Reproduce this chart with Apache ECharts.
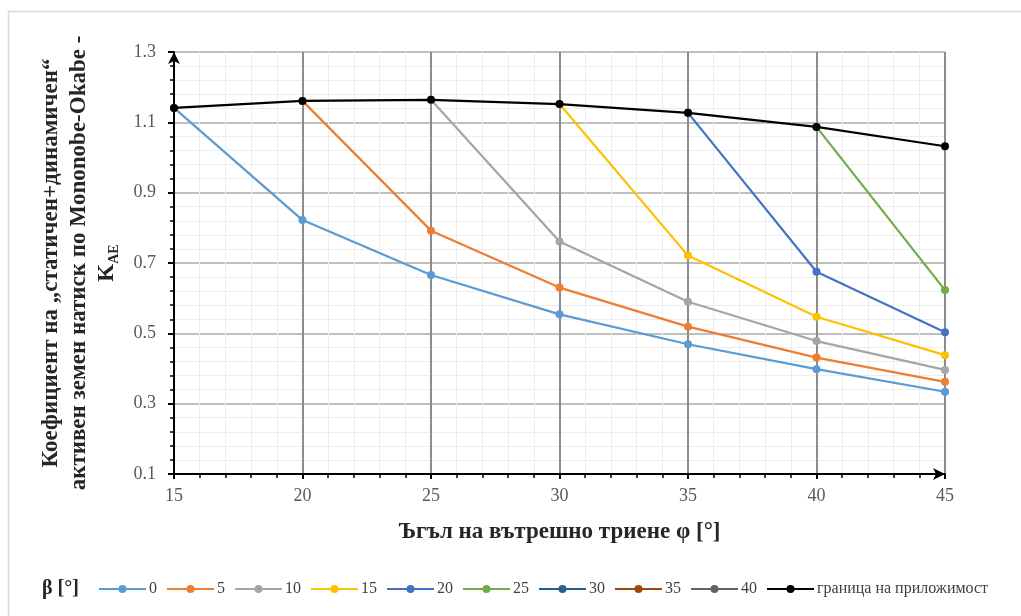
<!DOCTYPE html>
<html>
<head>
<meta charset="utf-8">
<script src="https://cdn.jsdelivr.net/npm/echarts@6/dist/echarts.min.js"></script>
<style>
html,body{margin:0;padding:0;background:#fff;}
#chart{width:1021px;height:616px;}
</style>
</head>
<body>
<div id="chart"></div>
<script>
const phi = [15, 20, 25, 30, 35, 40, 45];
const yTicks = [0.1, 0.3, 0.5, 0.7, 0.9, 1.1, 1.3];
const beta0  = [1.141, 0.822, 0.666, 0.554, 0.469, 0.398, 0.334];
const beta5  = [null, 1.161, 0.792, 0.630, 0.519, 0.431, 0.362];
const beta10 = [null, null, 1.164, 0.761, 0.590, 0.478, 0.396];
const beta15 = [null, null, null, 1.152, 0.721, 0.547, 0.438];
const beta20 = [null, null, null, null, 1.127, 0.675, 0.503];
const beta25 = [null, null, null, null, null, 1.087, 0.623];
const beta30 = [];
const beta35 = [];
const beta40 = [];
const boundary = [1.141, 1.161, 1.164, 1.152, 1.127, 1.087, 1.032];

const seriesNames = ['0', '5', '10', '15', '20', '25', '30', '35', '40', 'граница на приложимост'];
const seriesData = [beta0, beta5, beta10, beta15, beta20, beta25, beta30, beta35, beta40, boundary];
const colors = ['#5B9BD5', '#ED7D31', '#A5A5A5', '#FFC000', '#4472C4', '#70AD47', '#255E91', '#9E480E', '#636363', '#000000'];

const serif = "'Liberation Serif', 'DejaVu Serif', serif";

function pairs(arr) {
  const out = [];
  arr.forEach((v, i) => { if (v !== null && v !== undefined) out.push([phi[i], v]); });
  return out;
}

const chart = echarts.init(document.getElementById('chart'), null, {renderer: 'canvas'});
const option = {
  animation: false,
  backgroundColor: '#fff',
  color: colors,
  grid: {left: 174, right: 76, top: 52, bottom: 142},
  graphic: [
    {type: 'rect', shape: {x: 8.5, y: 11.5, width: 1040, height: 640}, style: {fill: 'none', stroke: '#d9d9d9', lineWidth: 1.5}, silent: true},
    {type: 'text', left: 42, top: 579, style: {text: 'β [°]', font: "bold 20px 'Liberation Serif', serif", fill: '#262626'}}
  ],
  legend: {
    left: 93, top: 576,
    itemWidth: 47, itemHeight: 10, itemGap: 9,
    textStyle: {fontFamily: serif, fontSize: 16, color: '#404040', padding: [0, 0, 0, -2]},
    data: seriesNames
  },
  xAxis: {
    type: 'value', min: 15, max: 45, interval: 5,
    name: 'Ъгъл на вътрешно триене φ [°]',
    nameLocation: 'middle', nameGap: 47,
    nameTextStyle: {fontFamily: serif, fontWeight: 'bold', fontSize: 23, color: '#262626'},
    axisLine: {show: true, onZero: false, symbol: ['none', 'arrow'], symbolSize: [9, 12], lineStyle: {color: '#000', width: 2}},
    axisTick: {show: true, inside: false, length: 5, lineStyle: {color: '#000', width: 2}},
    minorTick: {show: true, splitNumber: 5, length: 4, lineStyle: {color: '#000', width: 1.5}},
    axisLabel: {fontFamily: serif, fontSize: 18, color: '#595959', margin: 13, formatter: v => String(v)},
    splitLine: {show: true, lineStyle: {color: '#8c8c8c', width: 2}},
    minorSplitLine: {show: true, lineStyle: {color: '#ededed', width: 1}}
  },
  yAxis: {
    type: 'value', min: 0.1, max: 1.3, interval: 0.2,
    name: 'Коефициент на „статичен+динамичен“\nактивен земен натиск по Mononobe-Okabe -\nK{sub|AE}',
    nameLocation: 'middle', nameGap: 53, nameRotate: 90,
    nameTextStyle: {fontFamily: serif, fontWeight: 'bold', fontSize: 23, color: '#262626', lineHeight: 28,
      rich: {sub: {fontFamily: serif, fontWeight: 'bold', fontSize: 14, color: '#262626', verticalAlign: 'bottom', padding: [10, 0, 0, 0]}}},
    axisLine: {show: true, onZero: false, symbol: ['none', 'arrow'], symbolSize: [9, 12], lineStyle: {color: '#000', width: 2}},
    axisTick: {show: true, inside: false, length: 6, lineStyle: {color: '#000', width: 2}},
    minorTick: {show: true, splitNumber: 5, length: 4, lineStyle: {color: '#000', width: 1.5}},
    axisLabel: {fontFamily: serif, fontSize: 18, color: '#595959', margin: 18, formatter: v => v.toFixed(1)},
    splitLine: {show: true, lineStyle: {color: '#bfbfbf', width: 2}},
    minorSplitLine: {show: true, lineStyle: {color: '#ededed', width: 1}}
  },
  series: seriesNames.map((name, i) => ({
    name: name,
    type: 'line',
    data: pairs(seriesData[i]),
    symbol: 'circle',
    symbolSize: 8,
    z: i === 9 ? 5 : 3,
    lineStyle: {width: 2.2, color: colors[i]},
    itemStyle: {color: colors[i]}
  }))
};
chart.setOption(option);
</script>
</body>
</html>
